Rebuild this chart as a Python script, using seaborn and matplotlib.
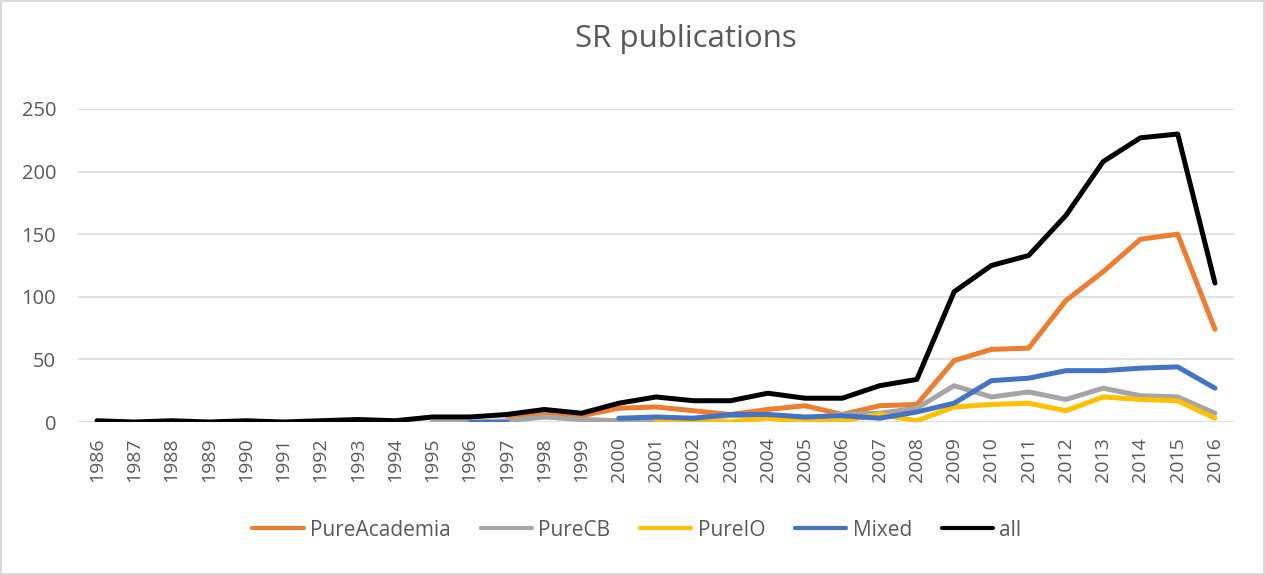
import matplotlib.pyplot as plt
from matplotlib.lines import Line2D
import seaborn as sns
import pandas as pd
import numpy as np

# Data (None = no point that year)
years = list(range(1986, 2017))
pure_academia = [None, None, None, None, None, None, 0, 1, None, None, None, 5, 7, 5, 11, 12, 9, 6, 10, 13,
                 6, 13, 14, 49, 58, 59, 97, 120, 146, 150, 74]
pure_cb = [None, None, None, None, None, None, None, None, None, 0, 0, 1, 4, 2, 1, 1, 3, 5, 5, 3,
           6, 7, 11, 29, 20, 24, 18, 27, 21, 20, 7]
pure_io = [None, None, None, None, None, None, None, None, None, None, None, None, None, None, None, 1, 1, 0, 3, 0,
           1, 6, 1, 12, 14, 15, 9, 20, 18, 17, 3]
mixed = [None, None, None, None, None, None, None, None, None, None, 0, 0, None, None, 3, 4, 3, 6, 6, 4,
         5, 3, 8, 15, 33, 35, 41, 41, 43, 44, 27]
all_pubs = [1, 0, 1, 0, 1, 0, 1, 2, 1, 4, 4, 6, 10, 7, 15, 20, 17, 17, 23, 19,
            19, 29, 34, 104, 125, 133, 165, 208, 227, 230, 111]

series_names = ["PureAcademia", "PureCB", "PureIO", "Mixed", "all"]
series_values = [pure_academia, pure_cb, pure_io, mixed, all_pubs]
colors = ["#ED7D31", "#A5A5A5", "#FFC000", "#4472C4", "#000000"]
y_ticks = [0, 50, 100, 150, 200, 250]

# long form table, one unit per unbroken run so gaps stay gaps
rows = []
for name, vals in zip(series_names, series_values):
    seg = 0
    for i, v in enumerate(vals):
        if v is None:
            seg += 1
            continue
        rows.append({"pos": i, "value": v, "series": name, "seg": f"{name}-{seg}"})
df = pd.DataFrame(rows)

sns.set_style("white")
plt.rcParams["font.family"] = ["Open Sans", "DejaVu Sans"]
text_color = "#595959"

fig = plt.figure(figsize=(12.65, 5.75), dpi=100)
fig.patch.set_edgecolor("#D9D9D9")
fig.patch.set_linewidth(1.5)
ax = fig.add_axes([78.4 / 1265, 1 - 422 / 575, (1233.6 - 78.4) / 1265, (422 - 109) / 575])

sns.lineplot(data=df, x="pos", y="value", hue="series", units="seg", estimator=None,
             hue_order=series_names, palette=colors, linewidth=3.6, legend=False, ax=ax,
             solid_capstyle="round", solid_joinstyle="round")

ax.set_xlim(-0.5, len(years) - 0.5)
ax.set_ylim(0, 250)
ax.set_xticks(range(len(years)))
ax.set_xticklabels([str(y) for y in years], rotation=90, fontsize=14, color=text_color)
ax.set_yticks(y_ticks)
ax.set_yticklabels([str(t) for t in y_ticks], fontsize=14.5, color=text_color)
ax.tick_params(axis="x", length=0, pad=11)
ax.tick_params(axis="y", length=0, pad=16)
ax.set_xlabel("")
ax.set_ylabel("")
ax.yaxis.grid(True, color="#D9D9D9", linewidth=1.1)
ax.set_axisbelow(True)
for s in ax.spines.values():
    s.set_visible(False)

fig.text(686 / 1265, 1 - 47 / 575, "SR publications", ha="center", va="baseline",
         fontsize=22.5, color=text_color)

handles = [Line2D([0], [0], color=c, linewidth=3.0, solid_capstyle="round") for c in colors]
fig.legend(handles, series_names, loc="center", bbox_to_anchor=(637 / 1265, 1 - 530 / 575),
           ncol=5, frameon=False, fontsize=15, labelcolor=text_color, handlelength=2.45,
           handletextpad=0.3, columnspacing=1.45, borderpad=0, borderaxespad=0)

fig.savefig("out.png", dpi=100)
